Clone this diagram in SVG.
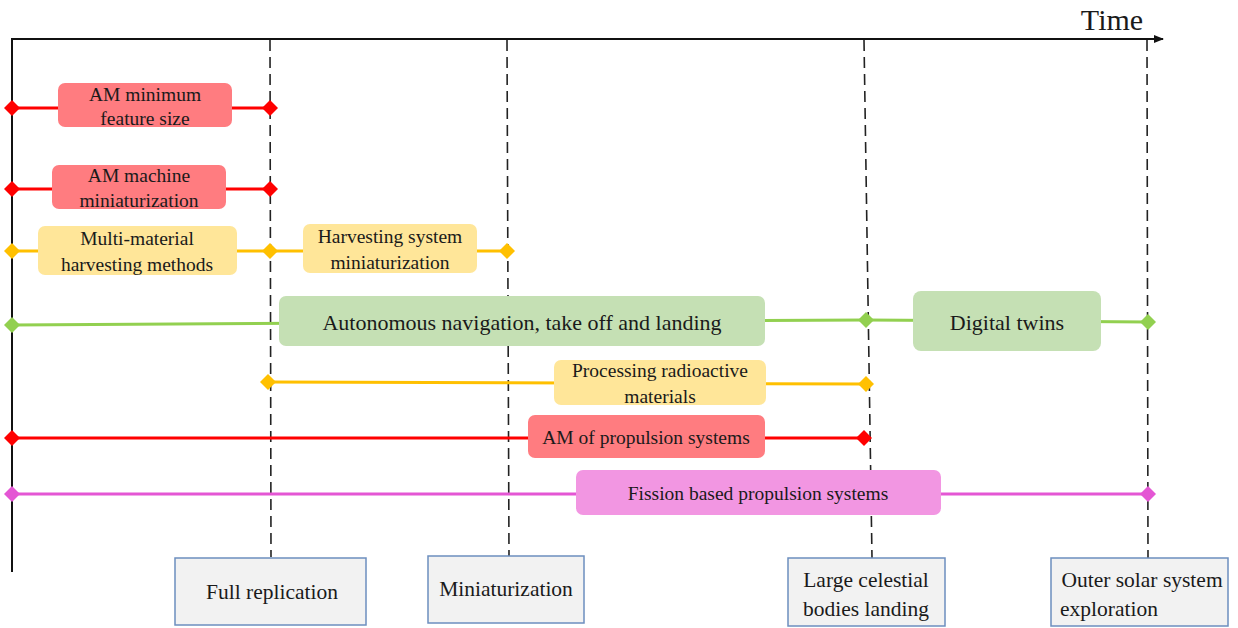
<svg xmlns="http://www.w3.org/2000/svg" width="1238" height="628" viewBox="0 0 1238 628">
<style>
text{font-family:"Liberation Serif","DejaVu Serif",serif;fill:#1a1a1a;text-anchor:middle}
.t{font-size:19.5px}
.s{font-size:19.5px}
.l{font-size:22px}
.big{font-size:21.5px}
.red{stroke:#ff0000;stroke-width:3;fill:none}
.yel{stroke:#ffc000;stroke-width:3;fill:none}
.grn{stroke:#92d050;stroke-width:3;fill:none}
.mag{stroke:#e456d4;stroke-width:3;fill:none}
.dash{stroke:#222;stroke-width:1.6;stroke-dasharray:11,6;fill:none}
.bred{fill:#ff7c80}
.byel{fill:#ffe699}
.bgrn{fill:#c5e0b4}
.bmag{fill:#f296e2}
.ms{fill:#f2f2f2;stroke:#6c8ebf;stroke-width:1.5}
</style>
<defs>
<marker id="arr" markerWidth="10" markerHeight="8" refX="9" refY="4" orient="auto" markerUnits="userSpaceOnUse"><path d="M0,0 L10,4 L0,8 Z" fill="#111"/></marker>
<path id="d" d="M0,-8 L8,0 L0,8 L-8,0 Z"/>
</defs>
<g id="axes">
<line x1="12" y1="39" x2="1163" y2="39" stroke="#111" stroke-width="2" marker-end="url(#arr)"/>
<line x1="12" y1="38" x2="12" y2="572" stroke="#111" stroke-width="2"/>
<text x="1112" y="30" style="font-size:30px">Time</text>
</g>
<g id="connectors">
<line class="dash" x1="270" y1="40" x2="271" y2="557"/>
<line class="dash" x1="507" y1="40" x2="509" y2="556"/>
<line class="dash" x1="864" y1="40" x2="872" y2="558"/>
<line class="dash" x1="1147" y1="40" x2="1148" y2="558"/>
<line class="red" x1="12" y1="108" x2="270" y2="108"/>
<line class="red" x1="12" y1="189" x2="270" y2="189"/>
<line class="yel" x1="12" y1="251" x2="507" y2="251"/>
<line class="grn" x1="12" y1="325" x2="866" y2="320"/>
<line class="grn" x1="866" y1="320" x2="1148" y2="322"/>
<line class="yel" x1="268" y1="382" x2="866" y2="384"/>
<line class="red" x1="12" y1="438" x2="864" y2="438"/>
<line class="mag" x1="12" y1="494" x2="1148" y2="494"/>
<use href="#d" x="12" y="108" fill="#ff0000"/>
<use href="#d" x="270" y="108" fill="#ff0000"/>
<use href="#d" x="12" y="189" fill="#ff0000"/>
<use href="#d" x="270" y="189" fill="#ff0000"/>
<use href="#d" x="12" y="251" fill="#ffc000"/>
<use href="#d" x="270" y="251" fill="#ffc000"/>
<use href="#d" x="507" y="251" fill="#ffc000"/>
<use href="#d" x="12" y="325" fill="#92d050"/>
<use href="#d" x="866" y="320" fill="#92d050"/>
<use href="#d" x="1148" y="322" fill="#92d050"/>
<use href="#d" x="268" y="382" fill="#ffc000"/>
<use href="#d" x="866" y="384" fill="#ffc000"/>
<use href="#d" x="12" y="438" fill="#ff0000"/>
<use href="#d" x="864" y="438" fill="#ff0000"/>
<use href="#d" x="12" y="494" fill="#e456d4"/>
<use href="#d" x="1148" y="494" fill="#e456d4"/>
</g>
<g id="n-am-min"><rect class="bred" x="58" y="83" width="174" height="44" rx="7"/><text class="t" x="145" y="101">AM minimum</text><text class="t" x="145" y="125">feature size</text></g>
<g id="n-am-mach"><rect class="bred" x="52" y="165" width="174" height="44" rx="7"/><text class="t" x="139" y="182">AM machine</text><text class="t" x="139" y="207">miniaturization</text></g>
<g id="n-multi"><rect class="byel" x="38" y="226" width="199" height="49" rx="7"/><text class="t" x="137" y="245">Multi-material</text><text class="t" x="137" y="271">harvesting methods</text></g>
<g id="n-harv"><rect class="byel" x="303" y="224" width="174" height="49" rx="7"/><text class="t" x="390" y="243">Harvesting system</text><text class="t" x="390" y="269">miniaturization</text></g>
<g id="n-auto"><rect class="bgrn" x="279" y="296" width="486" height="50" rx="7"/><text class="l" x="522" y="330">Autonomous navigation, take off and landing</text></g>
<g id="n-twin"><rect class="bgrn" x="913" y="291" width="188" height="60" rx="8"/><text class="l" x="1007" y="330">Digital twins</text></g>
<g id="n-rad"><rect class="byel" x="554" y="360" width="212" height="45" rx="7"/><text class="t" x="660" y="377">Processing radioactive</text><text class="t" x="660" y="403">materials</text></g>
<g id="n-prop"><rect class="bred" x="528" y="415" width="237" height="43" rx="7"/><text class="s" x="646" y="444">AM of propulsion systems</text></g>
<g id="n-fission"><rect class="bmag" x="576" y="470" width="365" height="45" rx="7"/><text class="s" x="758" y="500">Fission based propulsion systems</text></g>
<g id="m-full"><rect class="ms" x="175" y="558" width="191" height="67"/><text class="big" x="272" y="599">Full replication</text></g>
<g id="m-mini"><rect class="ms" x="428" y="556" width="156" height="67"/><text class="big" x="506" y="596">Miniaturization</text></g>
<g id="m-large"><rect class="ms" x="788" y="558" width="157" height="68"/><text class="big" x="866" y="587">Large celestial</text><text class="big" x="866" y="616">bodies landing</text></g>
<g id="m-outer"><rect class="ms" x="1051" y="558" width="177" height="68"/><text class="big" x="1142" y="587">Outer solar system</text><text class="big" x="1109" y="616">exploration</text></g>
</svg>
